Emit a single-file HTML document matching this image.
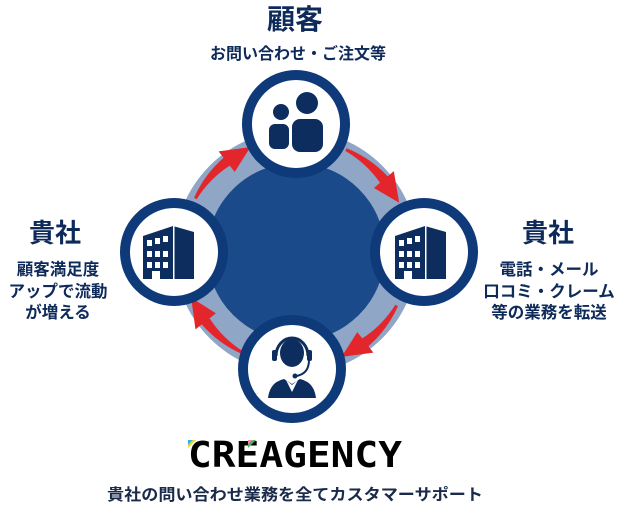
<!DOCTYPE html>
<html><head><meta charset="utf-8"><style>
html,body{margin:0;padding:0;background:#fff;}
svg{display:block;}
text{font-family:"Liberation Sans","Noto Sans CJK JP",sans-serif;}
</style></head><body>
<svg width="623" height="509" viewBox="0 0 623 509" xmlns="http://www.w3.org/2000/svg">
<defs>
<path id="arr" d="M 109.8 -35.7 A 116 116 0 0 1 118.1 13.4 L 126.1 14.2 L 107.1 40.0 L 100.2 11.6 L 108.2 12.3 A 109 109 0 0 0 107.0 -34.8 Z" fill="#e3262b"/>
<g id="bld">
<polygon points="-27,-16 3,-26 3,27 -27,27" fill="#0d2d5e"/>
<polygon points="3,-26 24,-20 24,27 3,27" fill="#0d2d5e"/>
<g fill="#fff">
<rect x="-23" y="-12" width="5" height="6"/><rect x="-15" y="-14" width="5" height="6"/><rect x="-7" y="-16" width="5" height="6"/>
<rect x="-23" y="-1" width="5" height="6"/><rect x="-15" y="-1" width="5" height="6"/><rect x="-7" y="-1" width="5" height="6"/>
<rect x="-23" y="10" width="5" height="6"/><rect x="-15" y="10" width="5" height="6"/><rect x="-7" y="10" width="5" height="6"/>
<rect x="-18" y="19" width="8" height="8"/>
<rect x="3" y="-26" width="1.5" height="53"/>
</g>
</g>
</defs>
<circle cx="296" cy="252" r="122" fill="#8fa6c6"/>
<circle cx="296" cy="252" r="89" fill="#1a4a8a"/>
<use href="#arr" transform="translate(296,252) rotate(-134)"/>
<use href="#arr" transform="translate(296,252) rotate(-46)"/>
<use href="#arr" transform="translate(296,252) rotate(46)"/>
<use href="#arr" transform="translate(296,252) rotate(136)"/>
<g fill="#fff" stroke="#0e3a7a" stroke-width="10">
<circle cx="296" cy="124" r="49"/>
<circle cx="174" cy="252" r="49"/>
<circle cx="424" cy="252" r="49"/>
<circle cx="292" cy="369" r="49"/>
</g>
<g fill="#0d2d5e">
<circle cx="281" cy="112" r="8"/>
<circle cx="307" cy="103" r="11"/>
<rect x="269" y="124" width="20" height="25" rx="6"/>
<rect x="292" y="119" width="31" height="33" rx="8"/>
</g>
<use href="#bld" transform="translate(422,252)"/>
<use href="#bld" transform="translate(170,252)"/>
<g fill="#0d2d5e">
<ellipse cx="292" cy="353" rx="12" ry="14"/>
<path d="M 276 356 A 16 18 0 0 1 308 356" fill="none" stroke="#0d2d5e" stroke-width="3"/>
<rect x="272" y="350" width="5" height="11" rx="2"/>
<rect x="307" y="350" width="5" height="11" rx="2"/>
<path d="M 309 360 Q 309 374 296 376" fill="none" stroke="#0d2d5e" stroke-width="2"/>
<circle cx="295" cy="376" r="2.5"/>
<path d="M 268 398 Q 270 382 284 379 L 292 384 L 300 379 Q 314 382 316 398 Z"/>
<polygon points="286,380 292,392 298,380 292,385" fill="#fff"/>
</g>
<g fill="#0e2a5a" font-weight="bold" text-anchor="middle">
<text x="295" y="29" font-size="28">顧客</text>
<text x="298" y="59" font-size="16">お問い合わせ・ご注文等</text>
<text x="55" y="242" font-size="26">貴社</text>
<text x="58" y="275" font-size="16.5">顧客満足度</text>
<text x="58" y="297" font-size="16.5">アップで流動</text>
<text x="58" y="318" font-size="16.5">が増える</text>
<text x="548" y="242" font-size="26">貴社</text>
<text x="549" y="275" font-size="16.5">電話・メール</text>
<text x="549" y="297" font-size="16.5">口コミ・クレーム</text>
<text x="549" y="318" font-size="16.5">等の業務を転送</text>
</g>
<text x="188" y="467" font-size="36" font-weight="bold" textLength="214" lengthAdjust="spacingAndGlyphs" fill="#000" style="font-family:'DejaVu Sans Mono','Liberation Mono',monospace">CREAGENCY</text>
<polygon points="188,440 193,440 188,445" fill="#2bb5e8"/>
<polygon points="193,440 196,440 188,448 188,445" fill="#f2d21c"/>
<polygon points="248,440 253,440 248,445" fill="#f080c0"/>
<polygon points="253,440 256,440 248,448 248,445" fill="#3cbf4a"/>
<text x="295" y="500" font-size="16" font-weight="bold" text-anchor="middle" textLength="376" lengthAdjust="spacingAndGlyphs" fill="#1a2a4a">貴社の問い合わせ業務を全てカスタマーサポート</text>
</svg>
</body></html>
